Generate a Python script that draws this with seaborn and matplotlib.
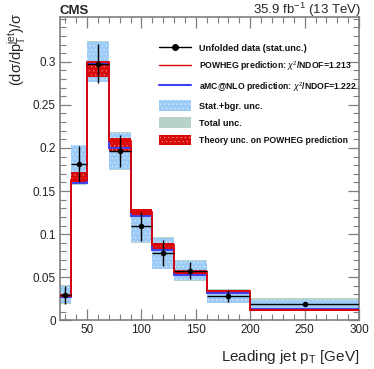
import numpy as np
import matplotlib
matplotlib.use("Agg")
import matplotlib.pyplot as plt
import matplotlib.patches as mpatches
from matplotlib.lines import Line2D
from matplotlib.ticker import MultipleLocator
import seaborn as sns

# ---------------- DATA ----------------
edges = [25, 35, 50, 70, 90, 110, 130, 160, 200, 300]
data = [0.0293, 0.181, 0.298, 0.196, 0.109, 0.078, 0.0576, 0.0278, 0.019]
data_err = [0.010, 0.021, 0.023, 0.0185, 0.0168, 0.0155, 0.0102, 0.007, 0.0015]

stat_lo = [0.0197, 0.158, 0.277, 0.1755, 0.091, 0.060, 0.0468, 0.0204, 0.0145]
stat_hi = [0.0397, 0.2033, 0.323, 0.217, 0.128, 0.095, 0.0688, 0.0355, 0.0232]
total_lo = [0.019, 0.157, 0.276, 0.174, 0.090, 0.059, 0.046, 0.020, 0.011]
total_hi = [0.0405, 0.204, 0.324, 0.218, 0.129, 0.0965, 0.0695, 0.036, 0.0262]

powheg = [0.028, 0.163, 0.300, 0.208, 0.126, 0.087, 0.056, 0.0335, 0.0118]
theo_lo = [0.0267, 0.161, 0.282, 0.197, 0.1195, 0.0824, 0.0525, 0.0305, 0.0110]
theo_hi = [0.0305, 0.172, 0.297, 0.211, 0.1288, 0.090, 0.0584, 0.0344, 0.0128]
amcnlo = [0.027, 0.159, 0.297, 0.200, 0.121, 0.081, 0.053, 0.032, 0.013]

# ---------------- STYLE ----------------
sns.set_theme(style="ticks")
plt.rcParams["font.family"] = ["Liberation Sans", "DejaVu Sans"]
plt.rcParams["mathtext.fontset"] = "custom"
plt.rcParams["mathtext.rm"] = "Liberation Sans"
plt.rcParams["mathtext.it"] = "Liberation Sans:italic"
plt.rcParams["mathtext.bf"] = "Liberation Sans:bold"
plt.rcParams["hatch.linewidth"] = 0.4

c_stat = "#9ccbf7"
c_total = "#b5d3c9"
c_theo = "#d80a0a"
c_red = "#e00000"
c_blue = "#4040f0"
c_frame = "#7f7f7f"

edges_a = np.array(edges)
lefts = edges_a[:-1]
widths = np.diff(edges_a)
centers = lefts + widths / 2

fig = plt.figure(figsize=(3.74, 3.69), dpi=100)
ax = fig.add_axes([0.160, 0.132, 0.800, 0.822])

# total unc under stat unc
ax.bar(lefts, np.array(total_hi) - np.array(total_lo), width=widths,
       bottom=total_lo, align="edge", color=c_total, linewidth=0, zorder=1)
ax.bar(lefts, np.array(stat_hi) - np.array(stat_lo), width=widths,
       bottom=stat_lo, align="edge", color=c_stat, linewidth=0,
       edgecolor=(1, 1, 1, 0.6), hatch="....", zorder=2)
ax.bar(lefts, np.array(theo_hi) - np.array(theo_lo), width=widths,
       bottom=theo_lo, align="edge", color=c_theo, linewidth=0,
       edgecolor=(1, 1, 1, 0.45), hatch="....", zorder=3)

ax.stairs(amcnlo, edges, baseline=None, color=c_blue, linewidth=1.4, zorder=4)
ax.stairs(powheg, edges, baseline=None, color=c_red, linewidth=1.3, zorder=5)

ax.errorbar(centers, data, yerr=data_err, xerr=widths / 2, fmt="none",
            ecolor="black", elinewidth=1.0, capsize=0, zorder=6)
sns.scatterplot(x=centers, y=data, color="black", s=16, linewidth=0,
                ax=ax, zorder=7)

# ---------------- AXES ----------------
ax.set_xlim(25, 300)
ax.set_ylim(0, 0.352)
ax.xaxis.set_major_locator(MultipleLocator(50))
ax.xaxis.set_minor_locator(MultipleLocator(10))
ax.yaxis.set_minor_locator(MultipleLocator(0.01))
ax.set_yticks([0, 0.05, 0.1, 0.15, 0.2, 0.25, 0.3])
ax.set_yticklabels(["0", "0.05", "0.1", "0.15", "0.2", "0.25", "0.3"])
ax.tick_params(which="both", direction="in", top=True, right=True,
               color=c_frame, labelsize=8.5, labelcolor="#222222", pad=3)
ax.tick_params(which="major", length=8, width=0.9)
ax.tick_params(which="minor", length=4, width=0.8)
for s in ax.spines.values():
    s.set_color(c_frame)
    s.set_linewidth(1.2)

ax.set_xlabel(r"Leading jet p$_\mathrm{T}$ [GeV]", fontsize=11,
              loc="right", labelpad=8)
ax.set_ylabel("")
fig.text(17 / 374, 1 - 13 / 369, r"(dσ/dp$_\mathrm{T}^\mathrm{jet}$)/σ",
         fontsize=10.5, rotation=90, ha="center", va="top")

fig.text(60 / 374, 1 - 14 / 369, "CMS", fontsize=9.5,
         fontweight="bold", ha="left", va="baseline")
fig.text(361 / 374, 1 - 14 / 369, r"35.9 fb$^{-1}$ (13 TeV)",
         fontsize=9.5, ha="right", va="baseline")

# ---------------- LEGEND ----------------
handles = [
    Line2D([], [], color="black", marker="o", markersize=4, linewidth=1.0),
    Line2D([], [], color=c_red, linewidth=1.0),
    Line2D([], [], color=c_blue, linewidth=1.5),
    mpatches.Patch(facecolor=c_stat, edgecolor=(1, 1, 1, 0.6),
                   hatch="....", linewidth=0),
    mpatches.Patch(facecolor=c_total, linewidth=0),
    mpatches.Patch(facecolor=c_theo, edgecolor=(1, 1, 1, 0.45),
                   hatch="....", linewidth=0),
]
labels = [
    "Unfolded data (stat.unc.)",
    r"POWHEG prediction: $\chi^2$/NDOF=1.213",
    r"aMC@NLO prediction: $\chi^2$/NDOF=1.222",
    "Stat.+bgr. unc.",
    "Total unc.",
    "Theory unc. on POWHEG prediction",
]
leg = ax.legend(handles, labels, loc="upper left",
                bbox_to_anchor=(0.32, 0.928), frameon=False,
                prop={"size": 6.6, "weight": "bold"},
                handlelength=3.5, handleheight=1.4, handletextpad=0.85,
                labelspacing=0.72, borderaxespad=0)
for i, t in enumerate(leg.get_texts()):
    t.set_color("#111111")
    if i in (1, 2):
        t.set_fontsize(6.2)
    if i == 5:
        t.set_fontsize(6.2)

fig.savefig("out.png", dpi=100)
